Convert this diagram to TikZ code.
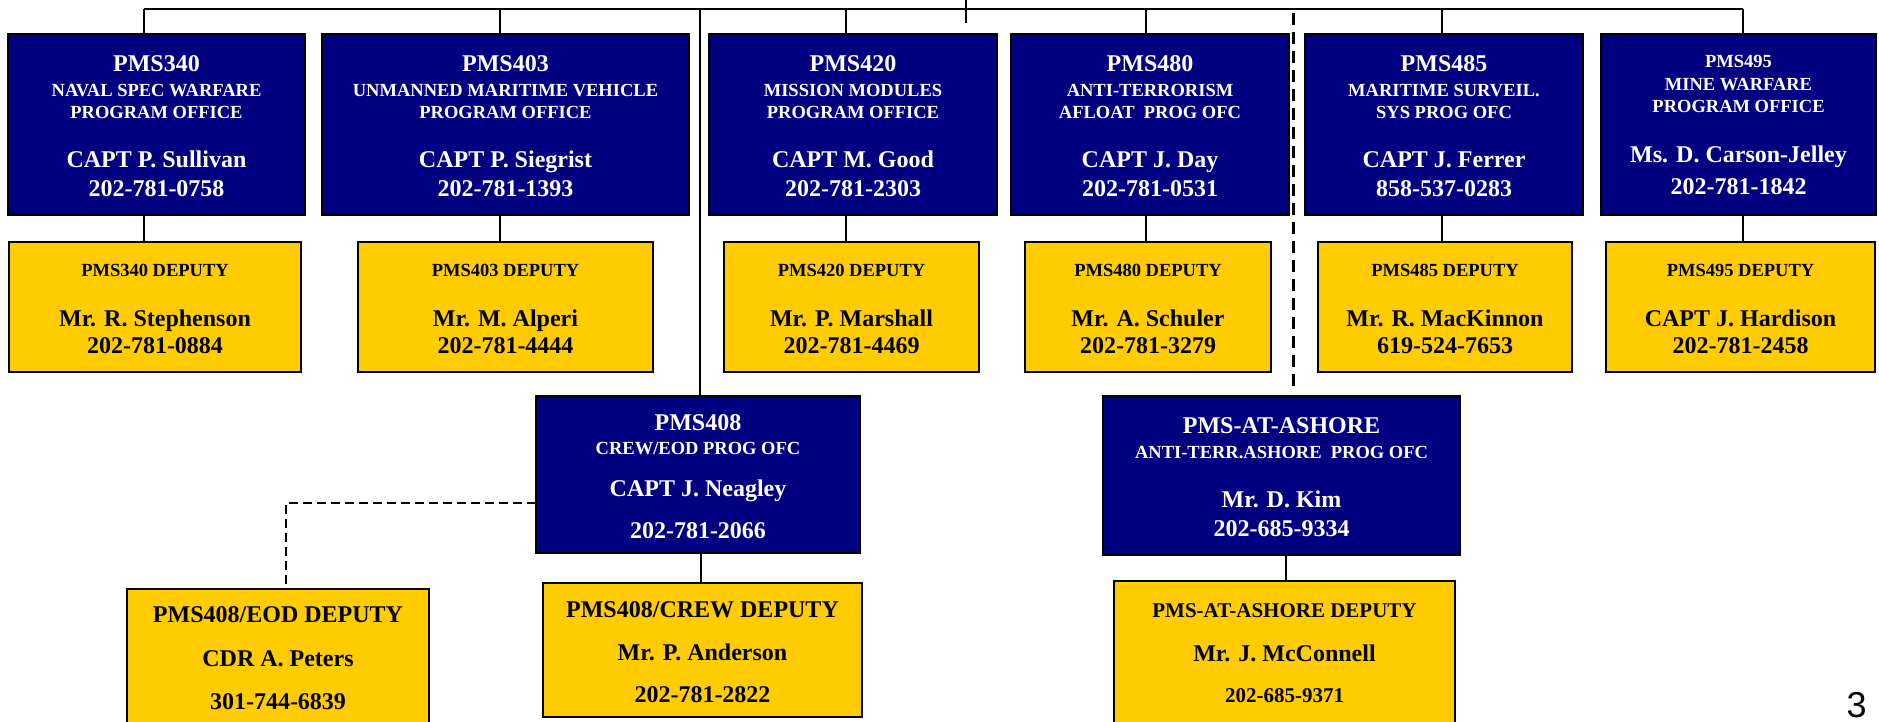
\documentclass[tikz,border=0pt]{standalone}
\usepackage{fontspec}
\setmainfont{Liberation Serif}
\setsansfont{Liberation Sans}
\usetikzlibrary{calc}
\definecolor{navyfill}{HTML}{000080}
\definecolor{goldfill}{HTML}{FFCC00}
\tikzset{
  orgbox/.style={draw=black, line width=2.5pt, inner sep=0pt, outer sep=0pt},
  bluebox/.style={orgbox, fill=navyfill},
  goldbox/.style={orgbox, fill=goldfill},
  link/.style={draw=black, line width=2pt},
  dashrule/.style={draw=black, line width=3pt, dash pattern=on 12pt off 7pt},
  dashlink/.style={draw=black, line width=2pt, dash pattern=on 9pt off 5pt},
}
% lines of text placed by baseline offset below the top of a box
\newcommand\boxtext[3]{%
  \foreach \dy/\fs/\txt [count=\n] in {#3}{%
    \node[anchor=base, text=#2, inner sep=0pt,
          font=\bfseries\fontsize{\fs}{\fs}\selectfont]
      (#1-\n) at ($(#1.north)+(0,\dy)$) {\txt};
  }}
\begin{document}
\begin{tikzpicture}[x=1pt, y=-1pt]
\useasboundingbox (0,0) rectangle (1879,721);

% ---------- program offices ----------
\node[bluebox, minimum width=297pt, minimum height=181pt] (p340) at (156.5,124.5) {};
\node[bluebox, minimum width=367pt, minimum height=181pt] (p403) at (505.5,124.5) {};
\node[bluebox, minimum width=288pt, minimum height=181pt] (p420) at (853,124.5) {};
\node[bluebox, minimum width=278pt, minimum height=181pt] (p480) at (1150,124.5) {};
\node[bluebox, minimum width=278pt, minimum height=181pt] (p485) at (1444,124.5) {};
\node[bluebox, minimum width=275pt, minimum height=181pt] (p495) at (1738.5,124.5) {};

\boxtext{p340}{white}{37.7/24/PMS340, 62.7/18.5/NAVAL SPEC WARFARE, 84.3/18.5/PROGRAM OFFICE, 133.7/24/CAPT P. Sullivan, 162/24/202-781-0758}
\boxtext{p403}{white}{37.7/24/PMS403, 62.7/18.5/UNMANNED MARITIME VEHICLE, 84.3/18.5/PROGRAM OFFICE, 133.7/24/CAPT P. Siegrist, 162/24/202-781-1393}
\boxtext{p420}{white}{37.7/24/PMS420, 62.7/18.5/MISSION MODULES, 84.3/18.5/PROGRAM OFFICE, 133.7/24/CAPT M. Good, 162/24/202-781-2303}
\boxtext{p480}{white}{37.7/24/PMS480, 62.7/18.5/ANTI-TERRORISM, 84.3/18.5/AFLOAT~~PROG OFC, 133.7/24/CAPT J. Day, 162/24/202-781-0531}
\boxtext{p485}{white}{37.7/24/PMS485, 62.7/18.5/MARITIME SURVEIL., 84.3/18.5/SYS PROG OFC, 133.7/24/CAPT J. Ferrer, 162/24/858-537-0283}
\boxtext{p495}{white}{33.7/18.5/PMS495, 56.3/18.5/MINE WARFARE, 78/18.5/PROGRAM OFFICE, 128/24/Ms. D. Carson-Jelley, 160.3/24/202-781-1842}

% ---------- deputies ----------
\node[goldbox, minimum width=292pt, minimum height=130pt] (d340) at (155,307) {};
\node[goldbox, minimum width=295pt, minimum height=130pt] (d403) at (505.5,307) {};
\node[goldbox, minimum width=255pt, minimum height=130pt] (d420) at (851.5,307) {};
\node[goldbox, minimum width=246pt, minimum height=130pt] (d480) at (1148,307) {};
\node[goldbox, minimum width=254pt, minimum height=130pt] (d485) at (1445,307) {};
\node[goldbox, minimum width=269pt, minimum height=130pt] (d495) at (1740.5,307) {};

\boxtext{d340}{black}{34/18.5/PMS340 DEPUTY, 84/24/Mr. R. Stephenson, 111.3/24/202-781-0884}
\boxtext{d403}{black}{34/18.5/PMS403 DEPUTY, 84/24/Mr. M. Alperi, 111.3/24/202-781-4444}
\boxtext{d420}{black}{34/18.5/PMS420 DEPUTY, 84/24/Mr. P. Marshall, 111.3/24/202-781-4469}
\boxtext{d480}{black}{34/18.5/PMS480 DEPUTY, 84/24/Mr. A. Schuler, 111.3/24/202-781-3279}
\boxtext{d485}{black}{34/18.5/PMS485 DEPUTY, 84/24/Mr. R. MacKinnon, 111.3/24/619-524-7653}
\boxtext{d495}{black}{34/18.5/PMS495 DEPUTY, 84/24/CAPT J. Hardison, 111.3/24/202-781-2458}

% ---------- lower offices ----------
\node[bluebox, minimum width=324pt, minimum height=157pt] (p408) at (698,474.5) {};
\node[goldbox, minimum width=302pt, minimum height=150pt] (eod) at (278,664) {};
\node[goldbox, minimum width=319pt, minimum height=134pt] (crew) at (702.5,650) {};
\node[bluebox, minimum width=357pt, minimum height=159pt] (ashore) at (1281.5,475.5) {};
\node[goldbox, minimum width=341pt, minimum height=156pt] (asdep) at (1284.5,659) {};

\boxtext{p408}{white}{34/24/PMS408, 58.3/18.5/{CREW/EOD PROG OFC}, 100/24/CAPT J. Neagley, 142.3/24/202-781-2066}
\boxtext{eod}{black}{33.7/24/{PMS408/EOD DEPUTY}, 77/24/CDR A. Peters, 120.3/24/301-744-6839}
\boxtext{crew}{black}{34/24/{PMS408/CREW DEPUTY}, 77/24/Mr. P. Anderson, 119.7/24/202-781-2822}
\boxtext{ashore}{white}{37.7/24/PMS-AT-ASHORE, 62/18.5/ANTI-TERR.ASHORE~~PROG OFC, 111/24/Mr. D. Kim, 140/24/202-685-9334}
\boxtext{asdep}{black}{36.7/21/PMS-AT-ASHORE DEPUTY, 80/24/Mr. J. McConnell, 121.7/21/202-685-9371}

% ---------- connectors ----------
\coordinate (k340) at (144,8.5);
\coordinate (k403) at (500,8.5);
\coordinate (k408) at (700,8.5);
\coordinate (k420) at (846,8.5);
\coordinate (k480) at (1146,8.5);
\coordinate (k485) at (1442,8.5);
\coordinate (k495) at (1743,8.5);
\coordinate (ktop) at (966,0);
\coordinate (kdash) at (1293,13);
\coordinate (kas) at (1286,0);
\coordinate (kcrew) at (701,0);
\coordinate (keod) at (286,503);

\draw[link] (k340) -- (k495);
\draw[link] (ktop) -- ++(0,23);
\foreach \k in {340,403,420,480,485,495}{
  \draw[link] (k\k) -- (k\k |- p\k.north);
  \draw[link] (k\k |- p\k.south) -- (k\k |- d\k.north);
}
\draw[link] (k408) -- (k408 |- p408.north);
\draw[link] (kcrew |- p408.south) -- (kcrew |- crew.north);
\draw[link] (kas |- ashore.south) -- (kas |- asdep.north);
\draw[dashrule] (kdash) -- ($(kdash |- ashore.north)+(0,-9)$);
\draw[dashlink] (keod -| p408.west) -- (keod) -- (keod |- eod.north);

% page number
\node[anchor=base, inner sep=0pt, font=\sffamily\fontsize{36}{36}\selectfont] (pgnum) at (1856.5,717) {3};
\end{tikzpicture}
\end{document}
